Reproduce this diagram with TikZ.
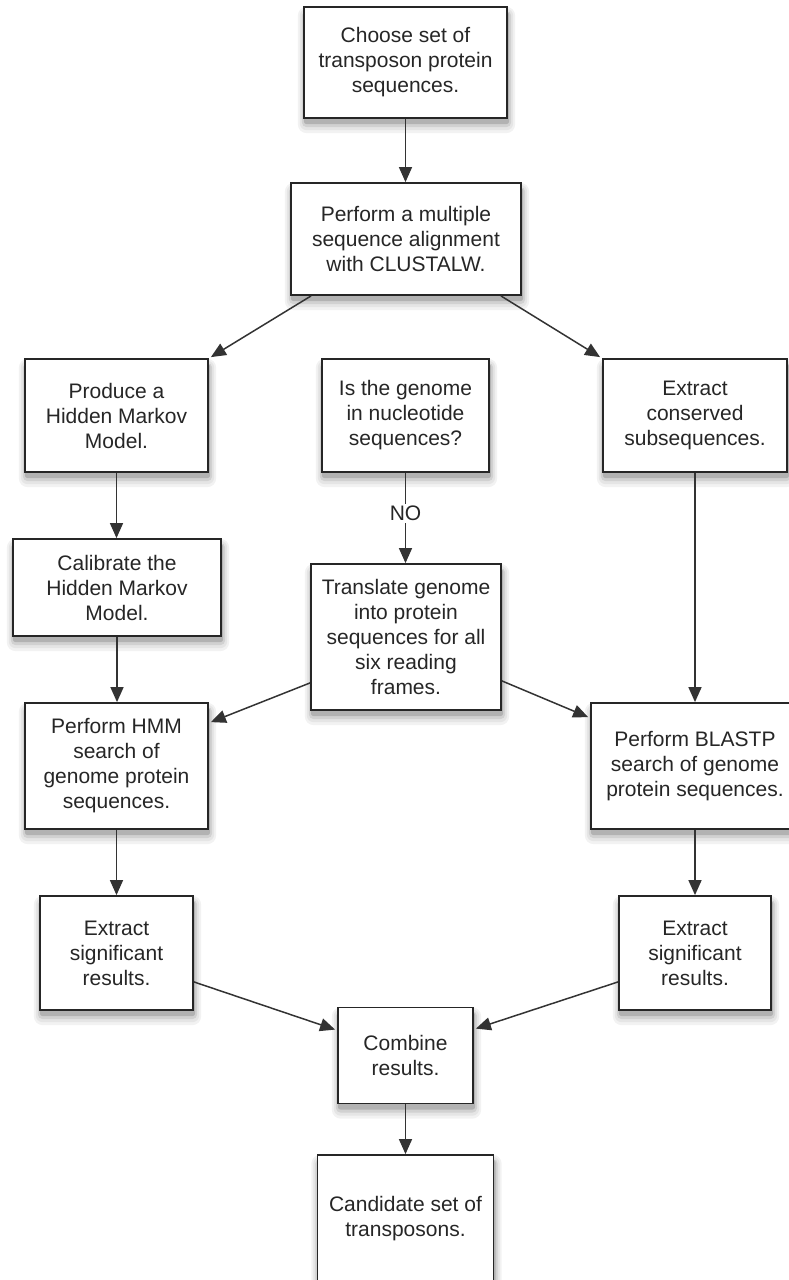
\documentclass[tikz,border=0pt]{standalone}
\usepackage{fontspec}
\setmainfont{Liberation Sans}
\usetikzlibrary{arrows.meta,calc}
\begin{document}
\begin{tikzpicture}[x=1pt,y=1pt,
  box/.style={draw=black!85, line width=1.8pt, fill=white, rectangle, inner sep=0pt,
    align=center, text=black!85, font=\fontsize{21}{25}\selectfont},
  shd/.style={fill=black!#1, draw=none},
  conn/.style={draw=black!80, line width=1.5pt, -{Triangle[length=15pt,width=13pt]}},
  lbl/.style={fill=white, inner sep=2pt, text=black!85, font=\fontsize{21}{25}\selectfont}
]
\useasboundingbox (0,0) rectangle (788,-1280);
% shadow helper coordinates are defined by the boxes; draw shadows first using invisible nodes
\foreach \nm/\cx/\cy/\w/\h in {choose/405.5/-62.5/203/111, mult/406/-239/230/112, hmm/116.5/-415.5/183/113,
  genome/405.5/-415.5/167/113, cons/695/-415.5/184/113, calib/117/-587.5/208/97, trans/406/-637/190/146,
  hmms/116.5/-766/183/126, blast/695/-766/208/126, sigL/116.5/-953/153/114, sigR/695/-953/152/114,
  comb/405.5/-1055.5/135/96, cand/405.5/-1219/176/128}{
  \node[minimum width=\w, minimum height=\h, inner sep=0pt, draw=none] (s\nm) at (\cx,\cy) {};
  \fill[black!5, rounded corners=9pt] ($(s\nm.south west)+(-6,-15)$) rectangle ($(s\nm.north east)+(8,0)$);
  \fill[black!10, rounded corners=7pt] ($(s\nm.south west)+(-4,-12)$) rectangle ($(s\nm.north east)+(6,-2)$);
  \fill[black!18, rounded corners=5pt] ($(s\nm.south west)+(-2,-9)$) rectangle ($(s\nm.north east)+(4,-4)$);
  \fill[black!30, rounded corners=3pt] ($(s\nm.south west)+(0,-6)$) rectangle ($(s\nm.north east)+(2,-5)$);
}
\node[box, minimum width=203, minimum height=111] (choose) at (405.5,-62.5) {Choose set of\\transposon protein\\sequences.};
\node[box, minimum width=230, minimum height=112] (mult) at (406,-239) {Perform a multiple\\sequence alignment\\with CLUSTALW.};
\node[box, minimum width=183, minimum height=113] (hmm) at (116.5,-415.5) {Produce a\\Hidden Markov\\Model.};
\node[box, minimum width=167, minimum height=113] (genome) at (405.5,-415.5) {Is the genome\\in nucleotide\\sequences?};
\node[box, minimum width=184, minimum height=113] (cons) at (695,-415.5) {Extract\\conserved\\subsequences.};
\node[box, minimum width=208, minimum height=97] (calib) at (117,-587.5) {Calibrate the\\Hidden Markov\\Model.};
\node[box, minimum width=190, minimum height=146] (trans) at (406,-637) {Translate genome\\into protein\\sequences for all\\six reading\\frames.};
\node[box, minimum width=183, minimum height=126] (hmms) at (116.5,-766) {Perform HMM\\search of\\genome protein\\sequences.};
\node[box, minimum width=208, minimum height=126] (blast) at (695,-766) {Perform BLASTP\\search of genome\\protein sequences.};
\node[box, minimum width=153, minimum height=114] (sigL) at (116.5,-953) {Extract\\significant\\results.};
\node[box, minimum width=152, minimum height=114] (sigR) at (695,-953) {Extract\\significant\\results.};
\node[box, minimum width=135, minimum height=96] (comb) at (405.5,-1055.5) {Combine\\results.};
\node[box, minimum width=176, minimum height=128] (cand) at (405.5,-1219) {Candidate set of\\transposons.};

\draw[conn] (choose.south) -- (choose.south |- mult.north);
\draw[conn] ($(mult.south west)+(21,0)$) -- ($(hmm.north east)+(2,1)$);
\draw[conn] ($(mult.south east)+(-21,0)$) -- ($(cons.north west)+(-2,1)$);
\draw[conn] (hmm.south) -- (hmm.south |- calib.north);
\draw[conn] (genome.south) -- node[lbl, pos=0.45] (no) {NO} (genome.south |- trans.north);
\draw[conn] (calib.south) -- (calib.south |- hmms.north);
\draw[conn] ($(trans.south west)+(0,28)$) -- ($(hmms.north east)+(2,-20)$);
\draw[conn] ($(trans.south east)+(0,30)$) -- ($(blast.north west)+(-2,-15)$);
\draw[conn] (cons.south) -- (cons.south |- blast.north);
\draw[conn] (hmms.south) -- (hmms.south |- sigL.north);
\draw[conn] (blast.south) -- (blast.south |- sigR.north);
\draw[conn] ($(sigL.south east)+(0,29)$) -- ($(comb.north west)+(-2,-23)$);
\draw[conn] ($(sigR.south west)+(0,29)$) -- ($(comb.north east)+(2,-22)$);
\draw[conn] (comb.south) -- (comb.south |- cand.north);
\end{tikzpicture}
\end{document}
